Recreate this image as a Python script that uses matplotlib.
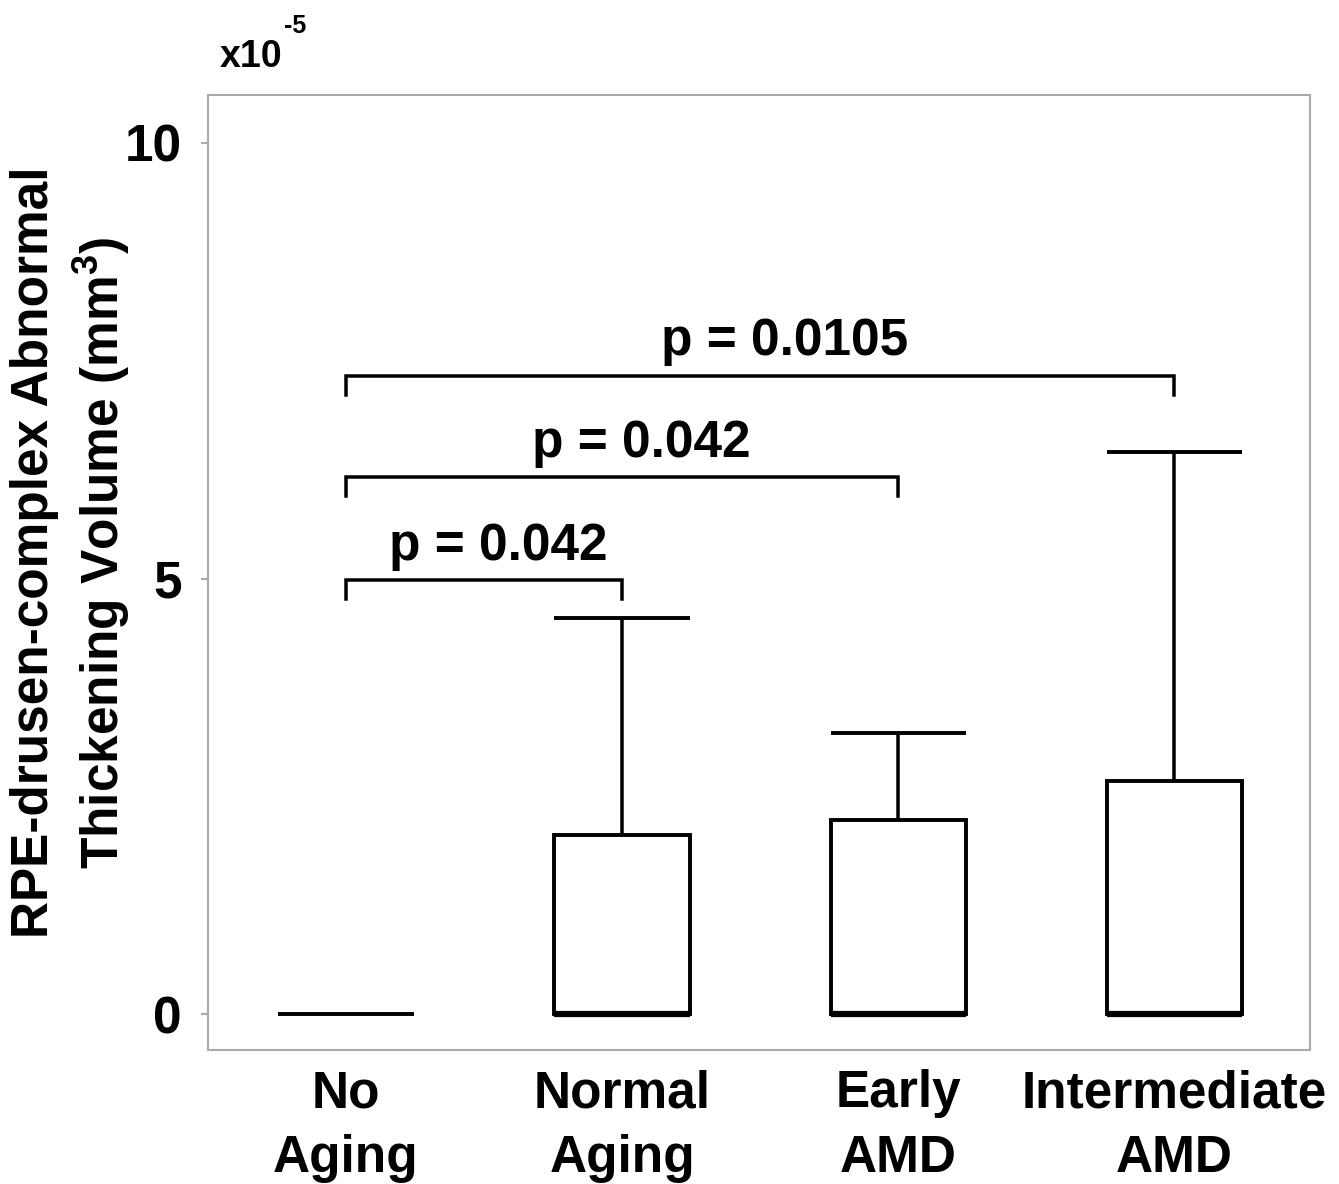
import numpy as np
import matplotlib
matplotlib.use("Agg")
import matplotlib.pyplot as plt

plt.rcParams['font.family'] = ['Liberation Sans', 'DejaVu Sans']
plt.rcParams['font.weight'] = 'bold'
plt.rcParams['mathtext.fontset'] = 'custom'
plt.rcParams['mathtext.rm'] = 'Liberation Sans:bold'
plt.rcParams['mathtext.it'] = 'Liberation Sans:bold'
plt.rcParams['mathtext.bf'] = 'Liberation Sans:bold'

# values in units of 1e-5 mm^3
groups = ['No\nAging', 'Normal\nAging', 'Early\nAMD', 'Intermediate\nAMD']
box_top = [0.0, 2.06, 2.23, 2.68]
whisker_top = [0.0, 4.55, 3.23, 6.45]

# significance brackets: (group a, group b, bracket y, p label)
comparisons = [(1, 2, 4.98, 'p = 0.042'),
               (1, 3, 6.17, 'p = 0.042'),
               (1, 4, 7.33, 'p = 0.0105')]

fs = 37

fig = plt.figure(figsize=(13.39, 11.84), dpi=100)
ax = fig.add_axes([0.1553, 0.1132, 0.8227, 0.8066])

x = np.arange(1, len(groups) + 1)
w = 0.49
lw = 2.8

for xi, top, wt in zip(x, box_top, whisker_top):
    if top == 0:
        ax.hlines(0, xi - w/2, xi + w/2, color='black', lw=lw)
        continue
    ax.bar(xi, top, width=w, bottom=0, facecolor='white', edgecolor='black', lw=lw, zorder=2)
    ax.hlines(0, xi - w/2, xi + w/2, color='black', lw=lw*1.6, zorder=3)
    ax.vlines(xi, top, wt, color='black', lw=lw*0.9, zorder=1)
    ax.hlines(wt, xi - w/2, xi + w/2, color='black', lw=lw)

drop = 0.22
for a, b, y, lab in comparisons:
    ax.plot([a, a, b, b], [y - drop, y, y, y - drop], color='black', lw=lw*0.9,
            solid_joinstyle='miter')
    ax.text((a + b) / 2 + 0.03 + 0.02*(b - a), y + 0.23, lab, ha='center', va='baseline',
            fontsize=fs, fontweight='bold')

ax.set_xlim(0.5, 4.49)
ax.set_ylim(-0.41, 10.55)
ax.set_yticks([0, 5, 10])
ax.set_yticklabels(['0', '5', '10'], fontsize=fs, fontweight='bold')
ax.set_xticks(x)
ax.set_xticklabels(groups, fontsize=fs, fontweight='bold', linespacing=1.4)
ax.tick_params(axis='y', length=5, width=1.5, color='#aaaaaa', pad=14)
ax.tick_params(axis='x', length=0, pad=14)
for s in ax.spines.values():
    s.set_color('#aaaaaa')
    s.set_linewidth(1.5)

ax.set_ylabel('RPE-drusen-complex Abnormal\nThickening Volume (mm$^3$)', fontsize=fs,
              fontweight='bold', linespacing=1.25)
ax.yaxis.set_label_coords(-0.069, 0.521)

fig.text(0.164, 0.943, 'x10', fontsize=27, fontweight='bold', ha='left', va='baseline')
fig.text(0.212, 0.972, '-5', fontsize=18, fontweight='bold', ha='left', va='baseline')

fig.savefig('out.png', dpi=100)
